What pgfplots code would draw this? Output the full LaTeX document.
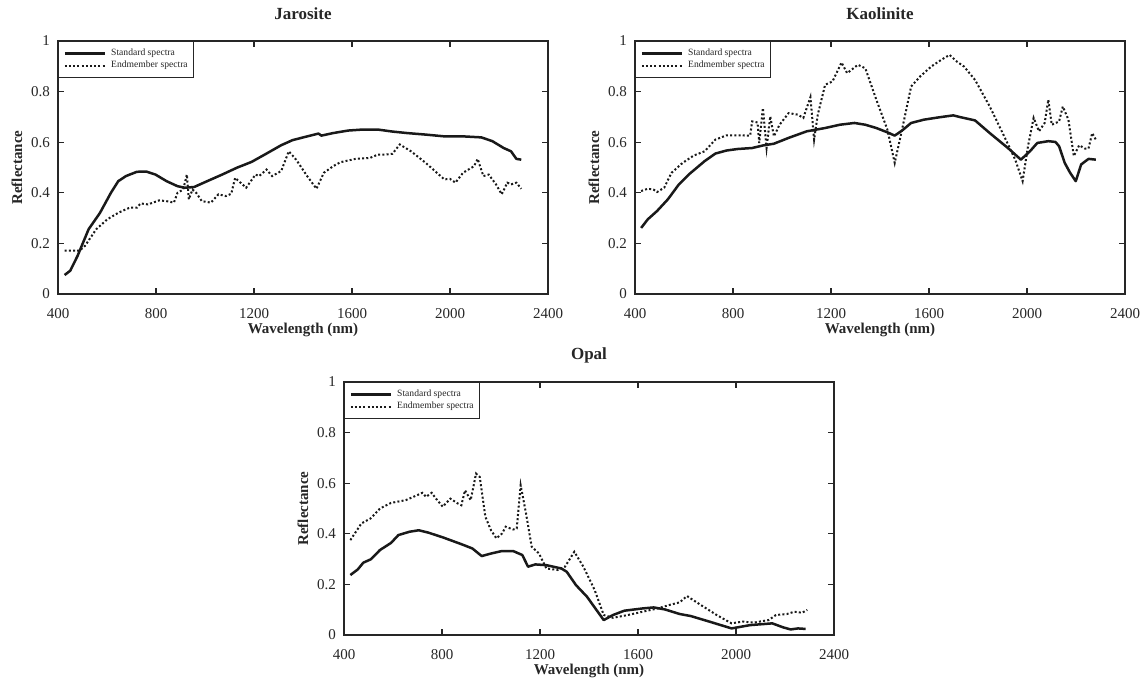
\documentclass[border=0pt]{standalone}
\usepackage{pgfplots}
\pgfplotsset{compat=1.18}
\usepackage{fontspec}
\setmainfont{Liberation Serif}
\definecolor{txt}{HTML}{262626}

\pgfplotstableread{
x y
427 0.075
450 0.092
480 0.151
525 0.256
571 0.320
616 0.400
646 0.446
677 0.466
722 0.483
760 0.484
798 0.472
843 0.446
888 0.426
918 0.420
956 0.423
1009 0.446
1070 0.472
1130 0.499
1190 0.522
1251 0.555
1311 0.588
1357 0.608
1417 0.623
1463 0.634
1475 0.626
1523 0.636
1584 0.646
1644 0.650
1705 0.650
1765 0.642
1826 0.636
1901 0.630
1977 0.623
2053 0.623
2128 0.619
2173 0.604
2219 0.577
2249 0.564
2271 0.534
2291 0.531
}\jarS

\pgfplotstableread{
x y
427 0.171
465 0.171
488 0.171
510 0.190
556 0.256
601 0.295
646 0.321
692 0.341
722 0.341
737 0.358
767 0.354
813 0.370
843 0.367
873 0.361
888 0.400
911 0.413
926 0.472
934 0.374
949 0.413
964 0.400
987 0.367
1024 0.361
1055 0.394
1085 0.387
1107 0.396
1123 0.459
1145 0.440
1168 0.420
1206 0.472
1221 0.466
1251 0.492
1274 0.466
1311 0.486
1342 0.564
1372 0.531
1417 0.466
1455 0.416
1485 0.479
1523 0.505
1553 0.521
1614 0.534
1674 0.538
1705 0.551
1735 0.551
1765 0.554
1795 0.591
1841 0.564
1901 0.518
1977 0.453
2000 0.455
2022 0.440
2053 0.479
2098 0.505
2113 0.534
2136 0.466
2158 0.472
2188 0.433
2211 0.394
2234 0.440
2249 0.433
2271 0.440
2291 0.416
}\jarE

\pgfplotstableread{
x y
425 0.261
452 0.295
490 0.328
534 0.374
579 0.433
624 0.476
684 0.525
728 0.555
773 0.567
818 0.573
878 0.577
922 0.587
967 0.594
1027 0.617
1101 0.643
1176 0.656
1236 0.669
1296 0.676
1340 0.669
1385 0.656
1430 0.639
1460 0.626
1490 0.646
1527 0.676
1579 0.689
1639 0.698
1699 0.706
1728 0.699
1788 0.686
1848 0.636
1922 0.577
1975 0.531
2012 0.564
2042 0.597
2087 0.604
2116 0.601
2131 0.584
2154 0.518
2176 0.479
2199 0.446
2221 0.512
2251 0.534
2281 0.531
}\kaoS

\pgfplotstableread{
x y
425 0.407
452 0.416
475 0.413
490 0.403
519 0.420
549 0.479
594 0.518
639 0.547
684 0.564
728 0.610
773 0.627
818 0.627
870 0.626
878 0.682
900 0.678
907 0.597
922 0.735
937 0.577
952 0.702
967 0.623
990 0.669
1027 0.715
1064 0.709
1087 0.696
1116 0.778
1131 0.610
1146 0.709
1176 0.827
1206 0.840
1243 0.915
1266 0.873
1310 0.906
1340 0.892
1385 0.768
1430 0.650
1460 0.518
1490 0.650
1527 0.820
1564 0.860
1609 0.899
1654 0.928
1684 0.945
1713 0.919
1743 0.899
1788 0.846
1848 0.741
1907 0.623
1952 0.531
1982 0.446
2004 0.584
2027 0.696
2049 0.643
2072 0.676
2087 0.768
2101 0.669
2131 0.682
2146 0.741
2169 0.689
2191 0.545
2213 0.588
2236 0.575
2251 0.575
2266 0.636
2281 0.610
}\kaoE

\pgfplotstableread{
x y
426 0.237
456 0.259
479 0.286
509 0.299
547 0.336
592 0.364
622 0.395
667 0.408
705 0.414
743 0.405
803 0.386
834 0.375
879 0.359
924 0.342
962 0.312
1000 0.322
1045 0.332
1090 0.332
1128 0.316
1151 0.270
1181 0.279
1226 0.276
1287 0.263
1309 0.250
1347 0.197
1392 0.151
1460 0.059
1498 0.079
1544 0.096
1619 0.105
1664 0.109
1710 0.101
1770 0.083
1815 0.075
1891 0.053
1982 0.026
2057 0.039
2148 0.046
2193 0.030
2223 0.022
2253 0.026
2284 0.024
}\opaS

\pgfplotstableread{
x y
426 0.375
471 0.441
509 0.461
547 0.500
592 0.522
652 0.533
690 0.549
720 0.562
735 0.546
758 0.562
773 0.542
803 0.507
834 0.539
864 0.520
879 0.513
894 0.572
917 0.533
939 0.638
954 0.625
977 0.467
1000 0.414
1022 0.382
1045 0.401
1060 0.428
1090 0.417
1105 0.421
1121 0.592
1143 0.480
1166 0.349
1196 0.322
1226 0.263
1272 0.257
1302 0.270
1340 0.329
1377 0.270
1423 0.178
1460 0.079
1498 0.068
1559 0.079
1619 0.092
1680 0.105
1725 0.118
1770 0.129
1800 0.154
1846 0.125
1921 0.079
1982 0.046
2027 0.053
2073 0.049
2133 0.059
2163 0.079
2208 0.083
2238 0.092
2269 0.088
2291 0.099
}\opaE

\pgfplotsset{
  spec/.style={
    scale only axis, width=245pt, height=126.5pt,
    xmin=400, xmax=2400, ymin=0, ymax=1,
    xtick={400,800,...,2400}, ytick={0,0.2,...,1},
    yticklabels={0,0.2,0.4,0.6,0.8,1},
    tick align=inside, major tick length=2.8pt,
    axis line style={line width=0.7pt, color=txt},
    every tick/.style={line width=0.6pt, color=txt},
    tick label style={font=\fontsize{7.5}{9}\selectfont, color=txt},
    /pgf/number format/assume math mode=true,
    /pgf/number format/1000 sep={},
    xticklabel style={yshift=-3.5pt},
    yticklabel style={xshift=-0.5pt},
    xlabel={Wavelength (nm)}, ylabel={Reflectance},
    xlabel style={at={(axis description cs:0.5,-0.142)}, anchor=center, font=\bfseries\fontsize{7.5}{9}\selectfont, color=txt},
    ylabel style={at={(axis description cs:-0.0837,0.5)}, anchor=center, font=\bfseries\fontsize{7.5}{9}\selectfont, color=txt},
    every axis title/.style={at={(axis description cs:0.5,1.107)}, anchor=center, font=\bfseries\fontsize{8.5}{10}\selectfont, color=txt},
    legend style={at={(axis description cs:0,1)}, anchor=north west,
      font=\fontsize{4.8}{5.6}\selectfont, draw=txt, line width=0.5pt,
      inner xsep=2.5pt, inner ysep=3pt, row sep=0pt, column sep=2pt,
      nodes={inner sep=0.6pt, text depth=0.15em}, text=txt},
    legend cell align=left,
    legend image code/.code={\draw[#1] (0pt,0pt) -- (20pt,0pt);},
  },
  stdl/.style={line width=1.25pt, color=black!90, line join=round},
  endl/.style={line width=1.0pt, color=black!90, dash pattern=on 1pt off 1.1pt},
}

\begin{document}
\begin{tikzpicture}
\useasboundingbox (0,0) rectangle (572pt,339.5pt);
\begin{axis}[spec, at={(29pt,192.5pt)}, anchor=south west, title={Jarosite}]
\addplot[stdl] table[x=x,y=y] {\jarS};
\addplot[endl] table[x=x,y=y] {\jarE};
\legend{Standard spectra, Endmember spectra}
\end{axis}
\begin{axis}[spec, at={(317.5pt,192.5pt)}, anchor=south west, title={Kaolinite}]
\addplot[stdl] table[x=x,y=y] {\kaoS};
\addplot[endl] table[x=x,y=y] {\kaoE};
\legend{Standard spectra, Endmember spectra}
\end{axis}
\begin{axis}[spec, at={(172pt,22pt)}, anchor=south west, title={Opal}]
\addplot[stdl] table[x=x,y=y] {\opaS};
\addplot[endl] table[x=x,y=y] {\opaE};
\legend{Standard spectra, Endmember spectra}
\end{axis}
\end{tikzpicture}
\end{document}
